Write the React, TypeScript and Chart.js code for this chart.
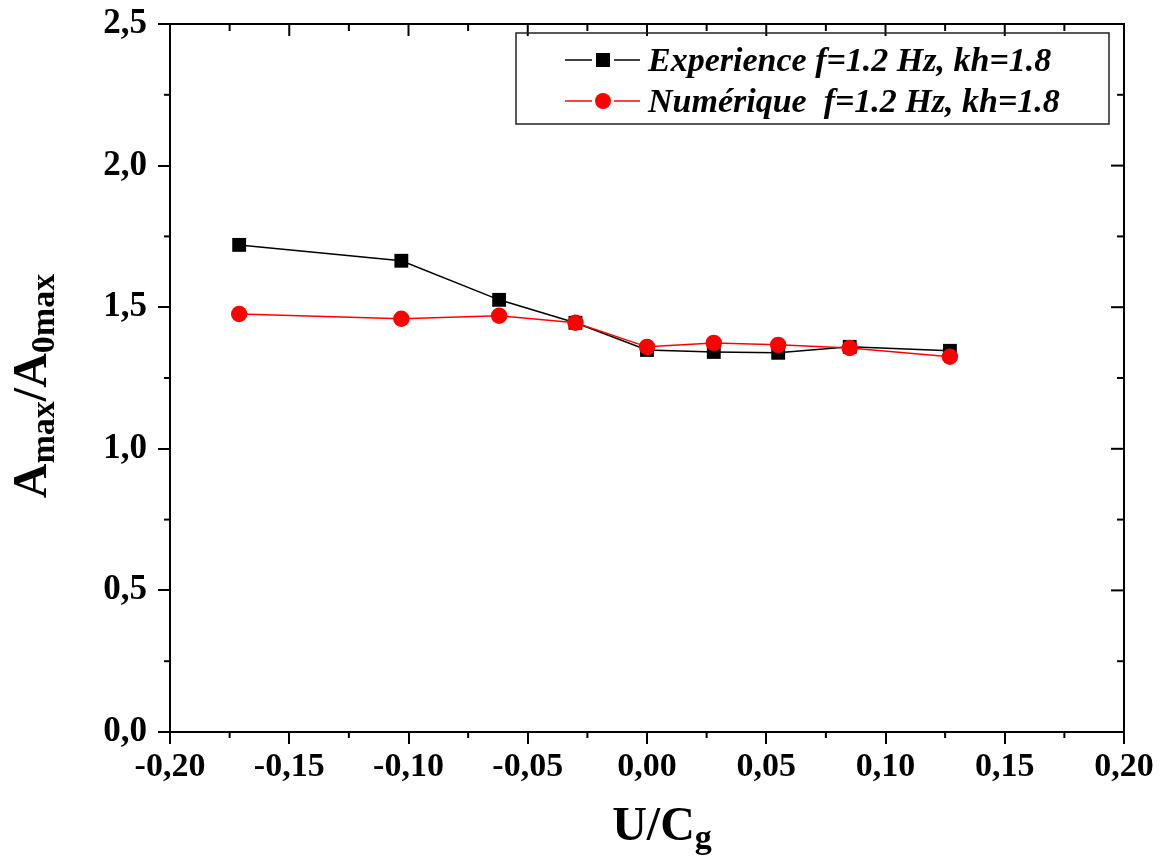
import React, { useEffect, useRef } from 'react';
import { Chart, registerables } from 'chart.js';

Chart.register(...registerables);

// ---- data ----
const uOverCg = [-0.171, -0.103, -0.062, -0.030, 0.000, 0.028, 0.055, 0.085, 0.127];
const experience = [1.720, 1.664, 1.526, 1.445, 1.349, 1.342, 1.339, 1.360, 1.346];
const numerique = [1.476, 1.459, 1.470, 1.445, 1.360, 1.374, 1.367, 1.356, 1.325];
const xMajorTicks = [-0.2, -0.15, -0.1, -0.05, 0, 0.05, 0.1, 0.15, 0.2];
const yMajorTicks = [0, 0.5, 1.0, 1.5, 2.0, 2.5];
const legendLabels = ['Experience f=1.2 Hz, kh=1.8', 'Numérique  f=1.2 Hz, kh=1.8'];

const W = 1165;
const H = 859;
const SERIF = '"Liberation Serif", "Times New Roman", serif';

function midpoints(arr: number[]): number[] {
  const out: number[] = [];
  for (let i = 0; i < arr.length - 1; i++) out.push((arr[i] + arr[i + 1]) / 2);
  return out;
}

function drawRich(
  ctx: CanvasRenderingContext2D,
  parts: { t: string; sub: boolean }[],
  cx: number,
  baseY: number,
  big: number,
  small: number,
  shift: number
) {
  const fontFor = (sub: boolean) => `bold ${sub ? small : big}px ${SERIF}`;
  let total = 0;
  const widths = parts.map((p) => {
    ctx.font = fontFor(p.sub);
    const w = ctx.measureText(p.t).width;
    total += w;
    return w;
  });
  let x = cx - total / 2;
  ctx.textAlign = 'left';
  ctx.textBaseline = 'alphabetic';
  parts.forEach((p, i) => {
    ctx.font = fontFor(p.sub);
    ctx.fillText(p.t, x, baseY + (p.sub ? shift : 0));
    x += widths[i];
  });
}

const decorPlugin = {
  id: 'decor',
  afterDraw(chart: any) {
    const ctx: CanvasRenderingContext2D = chart.ctx;
    const { left, right, top, bottom } = chart.chartArea;
    const xs = chart.scales.x;
    const ys = chart.scales.y;
    ctx.save();
    ctx.strokeStyle = '#000';
    ctx.fillStyle = '#000';
    ctx.lineWidth = 2;
    const line = (x1: number, y1: number, x2: number, y2: number) => {
      ctx.beginPath();
      ctx.moveTo(x1, y1);
      ctx.lineTo(x2, y2);
      ctx.stroke();
    };
    // frame top & right
    line(left, top, right + 1, top);
    line(right, top, right, bottom);
    // x minor ticks bottom (outward), top ticks inward
    midpoints(xMajorTicks).forEach((v) => {
      const px = xs.getPixelForValue(v);
      line(px, bottom, px, bottom + 6);
      line(px, top, px, top + 7);
    });
    xMajorTicks.forEach((v) => {
      const px = xs.getPixelForValue(v);
      line(px, top, px, top + 12);
    });
    // y minor ticks left (outward), right ticks inward
    midpoints(yMajorTicks).forEach((v) => {
      const py = ys.getPixelForValue(v);
      line(left - 6, py, left, py);
      line(right - 7, py, right, py);
    });
    yMajorTicks.forEach((v) => {
      const py = ys.getPixelForValue(v);
      line(right - 13, py, right, py);
    });

    // axis titles with subscripts
    ctx.fillStyle = '#000';
    drawRich(
      ctx,
      [
        { t: 'U/C', sub: false },
        { t: 'g', sub: true },
      ],
      662,
      840,
      48,
      34,
      8
    );
    ctx.save();
    ctx.translate(46, 386);
    ctx.rotate(-Math.PI / 2);
    drawRich(
      ctx,
      [
        { t: 'A', sub: false },
        { t: 'max', sub: true },
        { t: '/A', sub: false },
        { t: '0max', sub: true },
      ],
      0,
      0,
      48,
      34,
      8
    );
    ctx.restore();

    // legend box
    const bx = 516, by = 33, bw = 593, bh = 91;
    ctx.lineWidth = 1.5;
    ctx.strokeStyle = '#222';
    ctx.strokeRect(bx, by, bw, bh);
    const rows = [
      { y: 60, color: '#000', kind: 'rect' },
      { y: 101, color: '#ff0000', kind: 'circle' },
    ];
    rows.forEach((r, i) => {
      ctx.strokeStyle = r.color;
      ctx.fillStyle = r.color;
      ctx.lineWidth = 1.5;
      line(565, r.y, 592, r.y);
      line(614, r.y, 640, r.y);
      if (r.kind === 'rect') {
        ctx.fillRect(603 - 7, r.y - 7, 14, 14);
      } else {
        ctx.beginPath();
        ctx.arc(603, r.y, 8, 0, Math.PI * 2);
        ctx.fill();
      }
      ctx.fillStyle = '#000';
      ctx.font = `italic bold 34px ${SERIF}`;
      ctx.textAlign = 'left';
      ctx.textBaseline = 'alphabetic';
      ctx.fillText(legendLabels[i], 648, r.y + 11);
    });
    ctx.restore();
  },
};

export default function App() {
  const canvasRef = useRef<HTMLCanvasElement | null>(null);

  useEffect(() => {
    const canvas = canvasRef.current;
    if (!canvas) return;
    const chart = new Chart(canvas, {
      type: 'scatter',
      data: {
        datasets: [
          {
            label: legendLabels[0],
            data: uOverCg.map((x, i) => ({ x, y: experience[i] })),
            showLine: true,
            borderColor: '#000',
            backgroundColor: '#000',
            borderWidth: 1.5,
            pointStyle: 'rect',
            pointRadius: 9.8,
            pointBorderWidth: 0,
            pointBackgroundColor: '#000',
            order: 1,
          },
          {
            label: legendLabels[1],
            data: uOverCg.map((x, i) => ({ x, y: numerique[i] })),
            showLine: true,
            borderColor: '#ff0000',
            backgroundColor: '#ff0000',
            borderWidth: 1.5,
            pointStyle: 'circle',
            pointRadius: 8.2,
            pointBorderWidth: 0,
            pointBackgroundColor: '#ff0000',
            order: 0,
          },
        ],
      },
      options: {
        responsive: false,
        animation: false,
        events: [],
        layout: { padding: { top: 24, right: 41, left: 0, bottom: 0 } },
        plugins: {
          legend: { display: false },
          tooltip: { enabled: false },
          title: { display: false },
        },
        scales: {
          x: {
            type: 'linear',
            position: 'bottom',
            min: -0.2,
            max: 0.2,
            afterBuildTicks: (s: any) => {
              s.ticks = xMajorTicks.map((v) => ({ value: v }));
            },
            afterFit: (s: any) => {
              s.height = 127;
              s.paddingLeft = 0;
              s.paddingRight = 0;
            },
            ticks: {
              color: '#000',
              padding: 3,
              font: { family: SERIF, size: 34, weight: 'bold' },
              callback: (v: any) => Number(v).toFixed(2).replace('.', ','),
              maxRotation: 0,
              autoSkip: false,
            },
            grid: {
              display: true,
              drawOnChartArea: false,
              drawTicks: true,
              tickLength: 12,
              color: '#000',
              lineWidth: 2,
            },
            border: { display: true, color: '#000', width: 2 },
          },
          y: {
            type: 'linear',
            position: 'left',
            min: 0,
            max: 2.5,
            afterBuildTicks: (s: any) => {
              s.ticks = yMajorTicks.map((v) => ({ value: v }));
            },
            afterFit: (s: any) => {
              s.width = 170;
              s.paddingTop = 0;
              s.paddingBottom = 0;
            },
            ticks: {
              color: '#000',
              padding: 11,
              font: { family: SERIF, size: 35, weight: 'bold' },
              callback: (v: any) => Number(v).toFixed(1).replace('.', ','),
              autoSkip: false,
            },
            grid: {
              display: true,
              drawOnChartArea: false,
              drawTicks: true,
              tickLength: 12,
              color: '#000',
              lineWidth: 2,
            },
            border: { display: true, color: '#000', width: 2 },
          },
        },
      } as any,
      plugins: [decorPlugin],
    });
    return () => chart.destroy();
  }, []);

  return (
    <div style={{ position: 'absolute', left: 0, top: 0, width: W, height: H, background: '#fff' }}>
      <canvas ref={canvasRef} width={W} height={H} style={{ display: 'block', width: W, height: H }} />
    </div>
  );
}
